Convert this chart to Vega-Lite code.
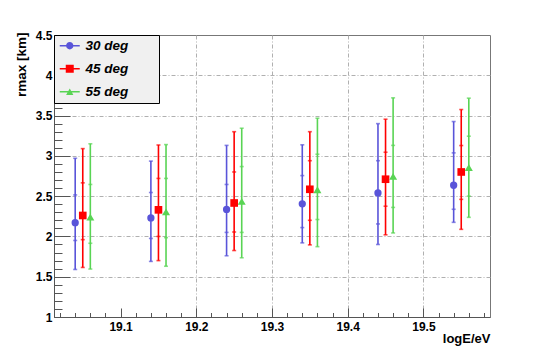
{
  "$schema": "https://vega.github.io/schema/vega-lite/v6.json",
  "autosize": "none",
  "width": 436,
  "height": 282,
  "padding": {"left": 54, "top": 35, "right": 55, "bottom": 35},
  "background": "white",
  "data": {"values": [
    {"logE": 19.04, "angle": "30 deg", "r": 2.17, "lo": 1.59, "hi": 2.97, "ilo": 1.95, "ihi": 2.515},
    {"logE": 19.05, "angle": "45 deg", "r": 2.26, "lo": 1.615, "hi": 3.09, "ilo": 1.96, "ihi": 2.665},
    {"logE": 19.06, "angle": "55 deg", "r": 2.24, "lo": 1.595, "hi": 3.15, "ilo": 1.915, "ihi": 2.645},
    {"logE": 19.14, "angle": "30 deg", "r": 2.23, "lo": 1.69, "hi": 2.935, "ilo": 1.975, "ihi": 2.545},
    {"logE": 19.15, "angle": "45 deg", "r": 2.33, "lo": 1.70, "hi": 3.135, "ilo": 2.0, "ihi": 2.72},
    {"logE": 19.16, "angle": "55 deg", "r": 2.305, "lo": 1.63, "hi": 3.14, "ilo": 1.985, "ihi": 2.72},
    {"logE": 19.24, "angle": "30 deg", "r": 2.335, "lo": 1.76, "hi": 3.13, "ilo": 2.05, "ihi": 2.645},
    {"logE": 19.25, "angle": "45 deg", "r": 2.415, "lo": 1.825, "hi": 3.30, "ilo": 2.055, "ihi": 2.80},
    {"logE": 19.26, "angle": "55 deg", "r": 2.435, "lo": 1.735, "hi": 3.343, "ilo": 2.05, "ihi": 2.867},
    {"logE": 19.34, "angle": "30 deg", "r": 2.405, "lo": 1.92, "hi": 3.137, "ilo": 2.11, "ihi": 2.755},
    {"logE": 19.35, "angle": "45 deg", "r": 2.585, "lo": 1.895, "hi": 3.30, "ilo": 2.20, "ihi": 2.94},
    {"logE": 19.36, "angle": "55 deg", "r": 2.58, "lo": 1.873, "hi": 3.467, "ilo": 2.21, "ihi": 3.02},
    {"logE": 19.44, "angle": "30 deg", "r": 2.54, "lo": 1.90, "hi": 3.40, "ilo": 2.155, "ihi": 2.94},
    {"logE": 19.45, "angle": "45 deg", "r": 2.71, "lo": 2.02, "hi": 3.455, "ilo": 2.375, "ihi": 3.045},
    {"logE": 19.46, "angle": "55 deg", "r": 2.745, "lo": 2.043, "hi": 3.72, "ilo": 2.36, "ihi": 3.13},
    {"logE": 19.54, "angle": "30 deg", "r": 2.635, "lo": 2.175, "hi": 3.426, "ilo": 2.337, "ihi": 3.037},
    {"logE": 19.55, "angle": "45 deg", "r": 2.80, "lo": 2.088, "hi": 3.575, "ilo": 2.46, "ihi": 3.128},
    {"logE": 19.56, "angle": "55 deg", "r": 2.855, "lo": 2.237, "hi": 3.716, "ilo": 2.50, "ihi": 3.244}
  ]},
  "layer": [
    {
      "mark": {"type": "rule", "strokeWidth": 1.6},
      "encoding": {
        "x": {"field": "logE", "type": "quantitative",
          "scale": {"domain": [19.012, 19.588], "nice": false, "zero": false},
          "axis": {"orient": "bottom", "values": [19.1, 19.2, 19.3, 19.4, 19.5], "format": ".1f", "grid": false,
            "tickSize": -9, "tickColor": "#555", "domainColor": "#555",
            "labelFont": "Liberation Sans", "labelFontWeight": "bold", "labelFontSize": 12, "labelColor": "#000", "labelPadding": 13,
            "title": "logE/eV", "titleFont": "Liberation Sans", "titleFontWeight": "bold", "titleFontSize": 13,
            "titleAnchor": "end", "titleAlign": "right", "titleBaseline": "alphabetic", "titleX": 436, "titleY": 25, "titleColor": "#000"}},
        "y": {"field": "lo", "type": "quantitative",
          "scale": {"domain": [1, 4.5], "nice": false, "zero": false},
          "axis": {"orient": "left", "values": [1, 1.5, 2, 2.5, 3, 3.5, 4, 4.5], "format": "~g", "grid": false,
            "tickSize": -16, "tickColor": "#555", "domainColor": "#555",
            "labelFont": "Liberation Sans", "labelFontWeight": "bold", "labelFontSize": 12, "labelColor": "#000", "labelPadding": 18,
            "title": "rmax [km]", "titleFont": "Liberation Sans", "titleFontWeight": "bold", "titleFontSize": 13.5,
            "titleAnchor": "end", "titleAngle": -90, "titleAlign": "right", "titleBaseline": "middle", "titleX": -33, "titleY": -3, "titleColor": "#000"}},
        "y2": {"field": "hi"},
        "stroke": {"field": "angle", "type": "nominal",
          "scale": {"domain": ["30 deg", "45 deg", "55 deg"], "range": ["#5954d9", "#ff0000", "#59d454"]}, "legend": null}
      }
    },
    {
      "transform": [{"fold": ["lo", "hi", "ilo", "ihi"], "as": ["kind", "val"]}],
      "mark": {"type": "tick", "orient": "horizontal", "size": 4, "thickness": 1.6},
      "encoding": {
        "x": {"field": "logE", "type": "quantitative",
          "axis": {"orient": "bottom", "values": [19.02,19.04,19.06,19.08,19.12,19.14,19.16,19.18,19.22,19.24,19.26,19.28,19.32,19.34,19.36,19.38,19.42,19.44,19.46,19.48,19.52,19.54,19.56,19.58],
            "labels": false, "grid": false, "domain": false, "tickSize": -4.5, "tickColor": "#555", "title": null}},
        "y": {"field": "val", "type": "quantitative",
          "axis": {"orient": "left", "values": [1.1,1.2,1.3,1.4,1.6,1.7,1.8,1.9,2.1,2.2,2.3,2.4,2.6,2.7,2.8,2.9,3.1,3.2,3.3,3.4,3.6,3.7,3.8,3.9,4.1,4.2,4.3,4.4],
            "labels": false, "grid": false, "domain": false, "tickSize": -8, "tickColor": "#555", "title": null}},
        "fill": {"field": "angle", "type": "nominal",
          "scale": {"domain": ["30 deg", "45 deg", "55 deg"], "range": ["#5954d9", "#ff0000", "#59d454"]}, "legend": null}
      }
    },
    {
      "mark": {"type": "point", "filled": true, "opacity": 1},
      "encoding": {
        "x": {"field": "logE", "type": "quantitative",
          "axis": {"orient": "bottom", "values": [19.2, 19.3, 19.4, 19.5], "labels": false, "ticks": false, "domain": false,
            "grid": true, "gridColor": "#b0b0b0", "gridDash": [4, 2, 1, 2], "gridWidth": 1, "title": null}},
        "y": {"field": "r", "type": "quantitative",
          "axis": {"orient": "left", "values": [1.5, 2, 2.5, 3, 3.5, 4], "labels": false, "ticks": false, "domain": false,
            "grid": true, "gridColor": "#b0b0b0", "gridDash": [4, 2, 1, 2], "gridWidth": 1, "title": null}},
        "shape": {"field": "angle", "type": "nominal", "scale": {"domain": ["30 deg", "45 deg", "55 deg"], "range": ["circle", "square", "triangle-up"]}, "legend": null},
        "size": {"field": "angle", "type": "nominal", "scale": {"domain": ["30 deg", "45 deg", "55 deg"], "range": [53, 64, 58]}, "legend": null},
        "color": {"field": "angle", "type": "nominal",
          "scale": {"domain": ["30 deg", "45 deg", "55 deg"], "range": ["#5954d9", "#ff0000", "#59d454"]}, "legend": null}
      }
    },
    {
      "transform": [{"filter": "false"}],
      "mark": {"type": "point", "filled": true, "opacity": 1},
      "encoding": {
        "color": {"field": "angle", "type": "nominal",
          "scale": {"domain": ["30 deg", "45 deg", "55 deg"], "range": ["#5954d9", "#ff0000", "#59d454"]},
          "legend": {
            "title": null, "orient": "none", "legendX": 0, "legendY": 0,
            "fillColor": "#f0f0f0", "strokeColor": "#000000", "padding": 4, "rowPadding": 8,
            "symbolSize": 100, "symbolOffset": 5, "labelOffset": 9,
            "labelFont": "Liberation Sans", "labelFontWeight": "bold", "labelFontStyle": "italic", "labelFontSize": 13.5, "labelColor": "#000000",
            "labelExpr": "datum.label + '\u00a0\u00a0\u00a0\u00a0\u00a0\u00a0\u00a0\u200b'"
          }},
        "shape": {"field": "angle", "type": "nominal",
          "scale": {"domain": ["30 deg", "45 deg", "55 deg"], "range": [
            "M-2,-0.13L2,-0.13L2,0.13L-2,0.13ZM0.73,0A0.73,0.73,0,1,1,-0.73,0A0.73,0.73,0,1,1,0.73,0Z",
            "M-2,-0.13L2,-0.13L2,0.13L-2,0.13ZM-0.8,-0.8L0.8,-0.8L0.8,0.8L-0.8,0.8Z",
            "M-2,-0.13L2,-0.13L2,0.13L-2,0.13ZM0,-0.63L0.73,0.63L-0.73,0.63Z"]},
          "legend": {
            "title": null, "orient": "none", "legendX": 0, "legendY": 0,
            "fillColor": "#f0f0f0", "strokeColor": "#000000", "padding": 4, "rowPadding": 8,
            "symbolSize": 100, "symbolOffset": 5, "labelOffset": 9,
            "labelFont": "Liberation Sans", "labelFontWeight": "bold", "labelFontStyle": "italic", "labelFontSize": 13.5, "labelColor": "#000000",
            "labelExpr": "datum.label + '\u00a0\u00a0\u00a0\u00a0\u00a0\u00a0\u00a0\u200b'"
          }}
      }
    }
  ],
  "resolve": {"axis": {"x": "independent", "y": "independent"}, "scale": {"shape": "independent", "color": "independent"}},
  "config": {
    "view": {"stroke": "#777", "strokeWidth": 1}
  }
}
